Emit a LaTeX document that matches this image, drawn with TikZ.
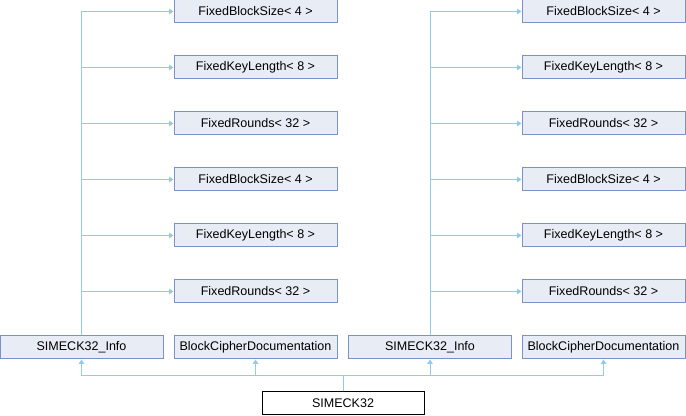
\documentclass[tikz,border=0pt]{standalone}
\usepackage{fontspec}
\setmainfont{Liberation Sans}
\usetikzlibrary{arrows.meta}
\definecolor{edgec}{HTML}{8FCBEA}
\definecolor{boxb}{HTML}{7A92C8}
\definecolor{boxf}{HTML}{E8ECF5}
\tikzset{
  cls/.style={draw=boxb, fill=boxf, line width=0.75pt, minimum width=122.25pt, minimum height=17.25pt, inner sep=0pt, font=\fontsize{9.4}{11}\selectfont},
  mainbox/.style={draw=black, fill=white, line width=0.75pt, minimum width=121.5pt, minimum height=17.25pt, inner sep=0pt, font=\fontsize{9.4}{11}\selectfont},
  edge/.style={draw=edgec, line width=0.75pt, -{Triangle[length=3.2pt,width=4pt]}}
}
\begin{document}
\begin{tikzpicture}[x=0.75pt,y=-0.75pt]
\useasboundingbox (0,0) rectangle (686,416);
% left column
\node[cls] (a1) at (255.5,11.5) {FixedBlockSize< 4 >};
\node[cls] (a2) at (255.5,67.5) {FixedKeyLength< 8 >};
\node[cls] (a3) at (255.5,123.5) {FixedRounds< 32 >};
\node[cls] (a4) at (255.5,179.5) {FixedBlockSize< 4 >};
\node[cls] (a5) at (255.5,235.5) {FixedKeyLength< 8 >};
\node[cls] (a6) at (255.5,291.5) {FixedRounds< 32 >};
% right column
\node[cls] (b1) at (603.5,11.5) {FixedBlockSize< 4 >};
\node[cls] (b2) at (603.5,67.5) {FixedKeyLength< 8 >};
\node[cls] (b3) at (603.5,123.5) {FixedRounds< 32 >};
\node[cls] (b4) at (603.5,179.5) {FixedBlockSize< 4 >};
\node[cls] (b5) at (603.5,235.5) {FixedKeyLength< 8 >};
\node[cls] (b6) at (603.5,291.5) {FixedRounds< 32 >};
% bottom row
\node[cls] (i1) at (81.5,347.5) {SIMECK32\_Info};
\node[cls] (d1) at (255.5,347.5) {BlockCipherDocumentation};
\node[cls] (i2) at (430,347.5) {SIMECK32\_Info};
\node[cls] (d2) at (603.5,347.5) {BlockCipherDocumentation};
\node[mainbox] (s) at (343,403.5) {SIMECK32};
\coordinate (bus) at (343,376);
% edges to bases
\foreach \t in {i1,d1,i2,d2}{
  \draw[edge] (s.north) -- (bus) -| (\t.south);
}
\foreach \t in {a1,a2,a3,a4,a5,a6}{
  \draw[edge] (i1.north) |- (\t.west);
}
\foreach \t in {b1,b2,b3,b4,b5,b6}{
  \draw[edge] (i2.north) |- (\t.west);
}
\end{tikzpicture}
\end{document}
